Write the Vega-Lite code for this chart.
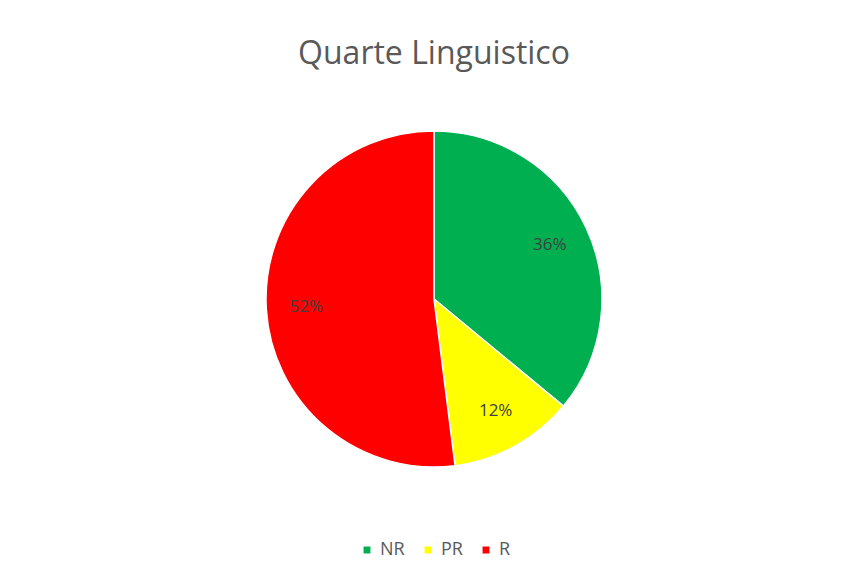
{
  "$schema": "https://vega.github.io/schema/vega-lite/v6.json",
  "width": 846,
  "height": 571,
  "autosize": {"type": "fit", "contains": "padding"},
  "padding": {"top": 38, "bottom": 12, "left": 31, "right": 9},
  "background": "white",
  "title": {
    "text": "Quarte Linguistico",
    "font": "Open Sans",
    "fontSize": 32,
    "fontWeight": "normal",
    "color": "#595959",
    "anchor": "middle",
    "offset": 16
  },
  "config": {
    "view": {"stroke": null},
    "legend": {"layout": {"bottom": {"anchor": "middle"}}}
  },
  "data": {
    "values": [
      {"categoria": "NR", "valore": 36, "etichetta": "36%"},
      {"categoria": "PR", "valore": 12, "etichetta": "12%"},
      {"categoria": "R", "valore": 52, "etichetta": "52%"}
    ]
  },
  "encoding": {
    "theta": {"field": "valore", "type": "quantitative", "stack": true},
    "order": {"field": "categoria", "type": "nominal", "sort": "ascending"},
    "color": {
      "field": "categoria",
      "type": "nominal",
      "sort": ["NR", "PR", "R"],
      "scale": {"domain": ["NR", "PR", "R"], "range": ["#00B050", "#FFFF00", "#FF0000"]},
      "legend": {
        "orient": "bottom",
        "direction": "horizontal",
        "title": null,
        "symbolType": "square",
        "symbolSize": 70,
        "labelFont": "Open Sans",
        "labelFontSize": 18,
        "labelColor": "#595959",
        "columnPadding": 14,
        "offset": 30
      }
    }
  },
  "layer": [
    {
      "mark": {"type": "arc", "outerRadius": 168, "stroke": "white", "strokeWidth": 1.5}
    },
    {
      "mark": {"type": "text", "radius": 128, "font": "Open Sans", "fontSize": 17},
      "encoding": {"text": {"field": "etichetta", "type": "nominal"}, "color": {"value": "#404040"}}
    }
  ]
}
